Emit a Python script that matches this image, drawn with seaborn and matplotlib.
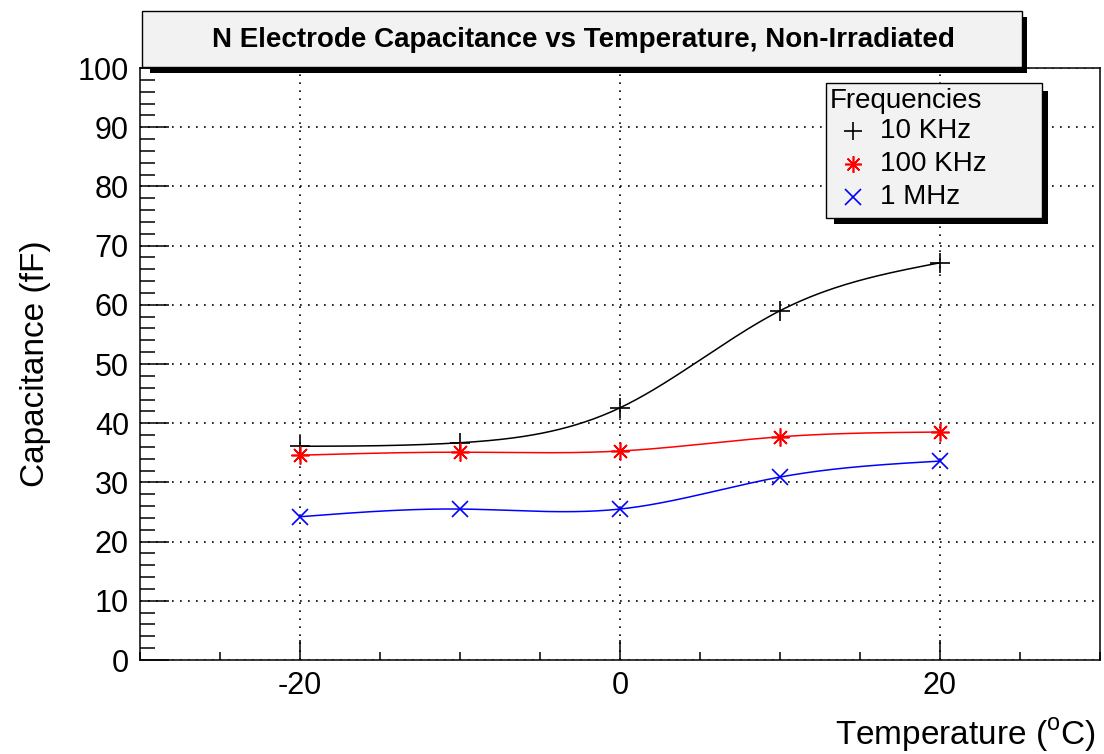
import numpy as np
import pandas as pd
import matplotlib
matplotlib.use("Agg")
import matplotlib.pyplot as plt
import seaborn as sns
from matplotlib.patches import Rectangle
from matplotlib.lines import Line2D
from matplotlib.ticker import MultipleLocator

# ---------------- data ----------------
temps = [-20, -10, 0, 10, 20]
cap_10khz = [36.1, 36.7, 42.6, 59.0, 67.1]
cap_100khz = [34.6, 35.1, 35.3, 37.7, 38.5]
cap_1mhz = [24.2, 25.5, 25.5, 30.9, 33.6]
series_names = ["10 KHz", "100 KHz", "1 MHz"]
series_values = [cap_10khz, cap_100khz, cap_1mhz]
series_colors = ["#000000", "#ff0000", "#0000ff"]
series_markers = ["+", (8, 2, 0), "x"]
series_msize = [14, 13, 12]
title_text = "N Electrode Capacitance vs Temperature, Non-Irradiated"
legend_title = "Frequencies"
x_ticks = [-20, 0, 20]
y_ticks = [0, 10, 20, 30, 40, 50, 60, 70, 80, 90, 100]

FONT = ["Liberation Sans", "DejaVu Sans"]
plt.rcParams["font.family"] = FONT
plt.rcParams["mathtext.fontset"] = "custom"
plt.rcParams["mathtext.rm"] = "Liberation Sans"
plt.rcParams["axes.unicode_minus"] = False


def natural_spline(x, y, n=300):
    """Smooth drawing curve through the measured points (natural cubic spline)."""
    x = np.asarray(x, float)
    y = np.asarray(y, float)
    k = len(x)
    h = np.diff(x)
    A = np.zeros((k, k))
    b = np.zeros(k)
    A[0, 0] = A[-1, -1] = 1.0
    for i in range(1, k - 1):
        A[i, i - 1] = h[i - 1]
        A[i, i] = 2 * (h[i - 1] + h[i])
        A[i, i + 1] = h[i]
        b[i] = 3 * ((y[i + 1] - y[i]) / h[i] - (y[i] - y[i - 1]) / h[i - 1])
    c = np.linalg.solve(A, b)
    bc = (y[1:] - y[:-1]) / h - h * (2 * c[:-1] + c[1:]) / 3
    d = (c[1:] - c[:-1]) / (3 * h)
    xs = np.linspace(x[0], x[-1], n)
    idx = np.clip(np.searchsorted(x, xs) - 1, 0, k - 2)
    dx = xs - x[idx]
    ys = y[idx] + bc[idx] * dx + c[idx] * dx ** 2 + d[idx] * dx ** 3
    return xs, ys


W, H = 1104, 754
fig = plt.figure(figsize=(W / 100, H / 100), dpi=100)
fig.patch.set_facecolor("white")


def fx(px):
    return px / W


def fy(py):
    return 1 - py / H


ax = fig.add_axes([fx(140), fy(660), fx(1100) - fx(140), fy(68) - fy(660)])

for name, vals, col, mk, ms in zip(series_names, series_values, series_colors,
                                   series_markers, series_msize):
    xs, ys = natural_spline(temps, vals)
    curve = pd.DataFrame({"T": xs, "C": ys})
    sns.lineplot(data=curve, x="T", y="C", ax=ax, color=col, lw=1.1,
                 sort=False, estimator=None, zorder=3)
    pts = pd.DataFrame({"T": temps, "C": vals})
    sns.lineplot(data=pts, x="T", y="C", ax=ax, color=col, linestyle="none",
                 marker=mk, markersize=ms, markeredgewidth=1.2,
                 markeredgecolor=col, markerfacecolor=col,
                 estimator=None, zorder=4)

ax.set_xlim(-30, 30)
ax.set_ylim(0, 100)
ax.set_xticks(x_ticks)
ax.set_yticks(y_ticks)
ax.xaxis.set_minor_locator(MultipleLocator(5))
ax.yaxis.set_minor_locator(MultipleLocator(2))
ax.set_xlabel("")
ax.set_ylabel("")
ax.grid(True, which="major", color="black", linestyle=(0, (1, 3.8)), lw=1.2)
ax.tick_params(axis="both", which="both", direction="in", top=False, right=False,
               width=1.1, labelsize=22, colors="black")
ax.tick_params(axis="y", which="major", length=21, pad=8)
ax.tick_params(axis="y", which="minor", length=11)
ax.tick_params(axis="x", which="major", length=14.5, pad=8)
ax.tick_params(axis="x", which="minor", length=6)
for sp in ax.spines.values():
    sp.set_linewidth(1.1)
    sp.set_color("black")

# axis titles
fig.text(fx(1096), fy(735), r"Temperature ($^{\mathrm{o}}$C)", ha="right", va="center",
         fontsize=24, family=FONT)
fig.text(fx(36), fy(364), "Capacitance (fF)", ha="center", va="center",
         rotation=90, fontsize=24, family=FONT)

# title box with shadow
fig.add_artist(Rectangle((fx(150), fy(73)), fx(1027) - fx(150), fy(17) - fy(73),
                         transform=fig.transFigure, facecolor="black", edgecolor="none",
                         zorder=5))
fig.add_artist(Rectangle((fx(142), fy(67)), fx(1022) - fx(142), fy(11) - fy(67),
                         transform=fig.transFigure, facecolor="#f2f2f2", edgecolor="black",
                         lw=1.0, zorder=6))
fig.text(fx(583), fy(40), title_text, ha="center", va="center", fontsize=20,
         fontweight="bold", family=FONT, zorder=7)

# legend box with shadow
fig.add_artist(Rectangle((fx(834), fy(224)), fx(1048) - fx(834), fy(91) - fy(224),
                         transform=fig.transFigure, facecolor="black", edgecolor="none",
                         zorder=5))
fig.add_artist(Rectangle((fx(826), fy(218)), fx(1042) - fx(826), fy(83) - fy(218),
                         transform=fig.transFigure, facecolor="#f2f2f2", edgecolor="black",
                         lw=1.0, zorder=6))
fig.text(fx(830), fy(101), legend_title, ha="left", va="center", fontsize=20,
         family=FONT, zorder=7)
for i, (name, col, mk, ms) in enumerate(zip(series_names, series_colors,
                                            series_markers, series_msize)):
    yy = 131 + 33 * i
    fig.add_artist(Line2D([fx(853)], [fy(yy)], transform=fig.transFigure, marker=mk,
                          markersize=ms - 1, markeredgewidth=1.2, color=col,
                          linestyle="none", zorder=7))
    fig.text(fx(880), fy(yy), name, ha="left", va="center", fontsize=20,
             family=FONT, zorder=7)

fig.savefig("out.png", dpi=100)
